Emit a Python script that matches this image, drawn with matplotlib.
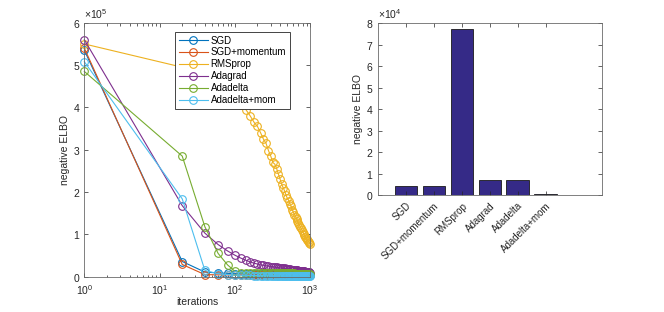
import numpy as np
import matplotlib
matplotlib.use("Agg")
import matplotlib.pyplot as plt

plt.rcParams["font.family"] = ["Liberation Sans", "DejaVu Sans"]
plt.rcParams["mathtext.fontset"] = "custom"
plt.rcParams["mathtext.rm"] = "Liberation Sans"
plt.rcParams["mathtext.it"] = "Liberation Sans:italic"

# data (values in units of 1e5 for the curves)
iterations = [1, 20, 40, 60, 80, 100, 120, 140, 160, 180, 200, 220, 240, 260, 280,
              300, 320, 340, 360, 380, 400, 420, 440, 460, 480, 500, 520, 540, 560,
              580, 600, 620, 640, 660, 680, 700, 720, 740, 760, 780, 800, 820, 840,
              860, 880, 900, 920, 940, 960, 980, 1000]

sgd = [5.35, 0.36, 0.11, 0.09, 0.08, 0.072, 0.068, 0.065, 0.063, 0.061,
       0.060, 0.059, 0.058, 0.057, 0.056, 0.055, 0.054, 0.054, 0.053, 0.052,
       0.052, 0.051, 0.050, 0.050, 0.049, 0.049, 0.048, 0.048, 0.047, 0.047,
       0.047, 0.046, 0.046, 0.046, 0.045, 0.045, 0.045, 0.045, 0.044, 0.044,
       0.044, 0.044, 0.043, 0.043, 0.043, 0.043, 0.043, 0.042, 0.042, 0.042,
       0.042]
sgd_mom = [5.40, 0.29, 0.05, 0.045, 0.044, 0.043, 0.043, 0.042, 0.042, 0.042,
           0.041, 0.041, 0.041, 0.041, 0.041, 0.041, 0.040, 0.040, 0.040, 0.040,
           0.040, 0.040, 0.040, 0.040, 0.040, 0.040, 0.040, 0.040, 0.040, 0.040,
           0.040, 0.040, 0.040, 0.040, 0.040, 0.040, 0.040, 0.040, 0.040, 0.040,
           0.040, 0.040, 0.040, 0.040, 0.040, 0.040, 0.040, 0.040, 0.040, 0.040,
           0.040]
rmsprop = [5.50, 4.95, 4.75, 4.55, 4.38, 4.20, 4.05, 3.95, 3.80, 3.65,
           3.55, 3.40, 3.25, 3.15, 2.98, 2.85, 2.70, 2.66, 2.55, 2.42,
           2.30, 2.18, 2.10, 2.02, 1.92, 1.85, 1.80, 1.72, 1.66, 1.58,
           1.52, 1.47, 1.42, 1.37, 1.32, 1.27, 1.22, 1.18, 1.14, 1.10,
           1.06, 1.02, 0.98, 0.95, 0.92, 0.89, 0.86, 0.84, 0.82, 0.80,
           0.78]
adagrad = [5.60, 1.68, 1.03, 0.76, 0.61, 0.51, 0.44, 0.39, 0.35, 0.32,
           0.30, 0.28, 0.27, 0.26, 0.25, 0.24, 0.235, 0.23, 0.22, 0.215,
           0.21, 0.205, 0.20, 0.195, 0.19, 0.185, 0.18, 0.175, 0.17, 0.168,
           0.165, 0.16, 0.157, 0.154, 0.15, 0.147, 0.144, 0.141, 0.138, 0.135,
           0.132, 0.129, 0.126, 0.123, 0.12, 0.117, 0.114, 0.111, 0.108, 0.105,
           0.10]
adadelta = [4.85, 2.85, 1.18, 0.55, 0.28, 0.13, 0.095, 0.09, 0.088, 0.087,
            0.086, 0.085, 0.085, 0.084, 0.084, 0.083, 0.083, 0.082, 0.082, 0.081,
            0.081, 0.080, 0.080, 0.080, 0.079, 0.079, 0.078, 0.078, 0.078, 0.077,
            0.077, 0.077, 0.076, 0.076, 0.076, 0.075, 0.075, 0.075, 0.074, 0.074,
            0.074, 0.073, 0.073, 0.073, 0.072, 0.072, 0.071, 0.071, 0.070, 0.070,
            0.069]
adadelta_mom = [5.08, 1.84, 0.15, 0.07, 0.05, 0.04, 0.035, 0.032, 0.030, 0.028,
                0.026, 0.025, 0.024, 0.023, 0.022, 0.021, 0.020, 0.019, 0.018, 0.018,
                0.017, 0.016, 0.016, 0.015, 0.015, 0.014, 0.014, 0.013, 0.013, 0.012,
                0.012, 0.012, 0.011, 0.011, 0.011, 0.010, 0.010, 0.010, 0.009, 0.009,
                0.009, 0.009, 0.008, 0.008, 0.008, 0.008, 0.007, 0.007, 0.007, 0.006,
                0.006]

methods = ["SGD", "SGD+momentum", "RMSprop", "Adagrad", "Adadelta", "Adadelta+mom"]
final_elbo = [4200, 4000, 77500, 6800, 6900, 600]

colors = ["#0072BD", "#D95319", "#EDB120", "#7E2F8E", "#77AC30", "#4DBEEE"]
curves = [sgd, sgd_mom, rmsprop, adagrad, adadelta, adadelta_mom]

txt = "#262626"
spine = "#6a6a6a"

fig = plt.figure(figsize=(6.64, 3.12), dpi=100)

# left: convergence curves
ax1 = fig.add_axes([0.127, 0.113, 0.340, 0.814])
for name, vals, c in zip(methods, curves, colors):
    ax1.plot(iterations, np.array(vals) * 1e5, color=c, lw=0.8, marker="o",
             markersize=5.5, markerfacecolor="none", markeredgewidth=0.8,
             label=name, clip_on=False)
ax1.set_xscale("log")
ax1.set_xlim(1, 1000)
ax1.set_ylim(0, 6e5)
ax1.set_yticks(np.arange(0, 7) * 1e5)
ax1.ticklabel_format(axis="y", style="sci", scilimits=(0, 0), useMathText=True)
ax1.set_xlabel("iterations", fontsize=7.5, color=txt, labelpad=0)
ax1.set_ylabel("negative ELBO", fontsize=7.5, color=txt, labelpad=2)
leg = ax1.legend(loc="upper left", bbox_to_anchor=(0.40, 0.965), borderaxespad=0,
                 fontsize=7, handlelength=3.0, labelspacing=0.2, borderpad=0.4,
                 handletextpad=0.3, fancybox=False, framealpha=1)
leg.get_frame().set_edgecolor(txt)
leg.get_frame().set_linewidth(0.6)

# right: final values
ax2 = fig.add_axes([0.569, 0.375, 0.337, 0.55])
pos = np.arange(1, len(methods) + 1)
ax2.bar(pos, final_elbo, width=0.8, color="#352A87", edgecolor="#1a1a1a", linewidth=0.6)
ax2.set_xlim(0, 8)
ax2.set_ylim(0, 8e4)
ax2.set_yticks(np.arange(0, 9) * 1e4)
ax2.ticklabel_format(axis="y", style="sci", scilimits=(0, 0), useMathText=True)
ax2.set_xticks(pos)
ax2.set_xticklabels(methods, rotation=45, ha="right", rotation_mode="anchor")
ax2.set_ylabel("negative ELBO", fontsize=7.5, color=txt, labelpad=2)

for ax in (ax1, ax2):
    ax.tick_params(which="both", direction="in", top=True, right=True,
                   labelsize=7.5, colors=txt, width=0.5)
    ax.tick_params(which="major", length=3)
    ax.tick_params(which="minor", length=1.8)
    for s in ax.spines.values():
        s.set_color(spine)
        s.set_linewidth(0.6)
    ax.yaxis.get_offset_text().set_fontsize(7.5)
    ax.yaxis.get_offset_text().set_color(txt)
ax1.tick_params(axis="y", pad=3)
ax1.tick_params(axis="x", pad=5)
ax2.tick_params(axis="y", pad=3)
ax2.tick_params(axis="x", labelsize=7, pad=4)

fig.savefig("out.png", dpi=100)
